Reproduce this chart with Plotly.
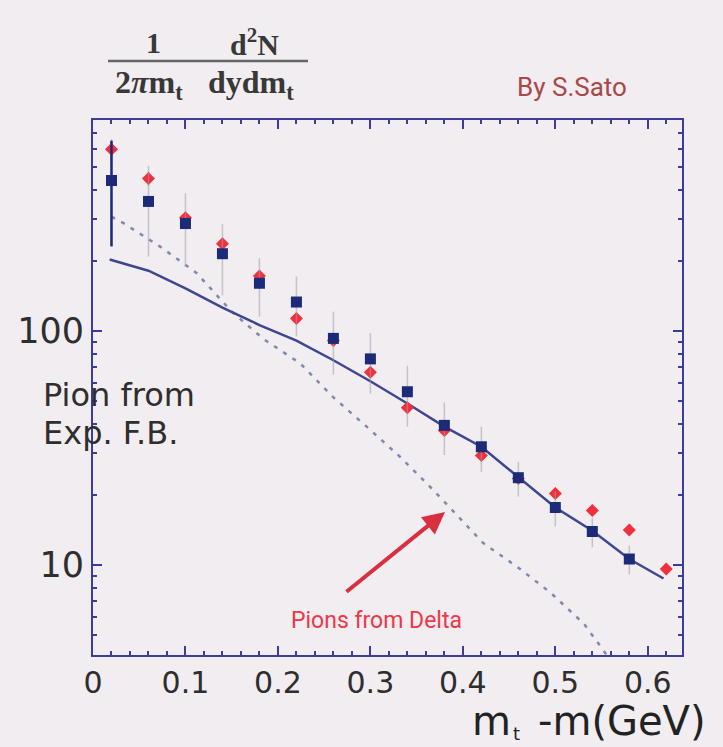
import plotly.graph_objects as go

# ---------------- data ----------------
x_blue = [0.02, 0.06, 0.10, 0.14, 0.18, 0.22, 0.26, 0.30, 0.34, 0.38, 0.42, 0.46, 0.50, 0.54, 0.58]
y_blue = [440, 358, 288, 214, 160, 133, 93, 76, 55, 39.5, 32, 23.6, 17.6, 13.9, 10.6]
err_blue = [210, 150, 100, 72, 45, 38, 28, 22, 16, 10, 7, 4, 3, 2, 1.5]

x_red = [0.02, 0.06, 0.10, 0.14, 0.18, 0.22, 0.26, 0.30, 0.34, 0.38, 0.42, 0.46, 0.50, 0.54, 0.58, 0.62]
y_red = [598, 449, 305, 236, 172, 113, 91, 66.7, 47, 37.6, 29.4, 23.4, 20.2, 17.1, 14.1, 9.6]
err_red = [60, 30, 18, 14, 9, 6, 5, 3, 2.5, 2, 1.5, 1.2, 1.0, 0.9, 0.7, 0.5]

x_fit = [0.018, 0.06, 0.10, 0.14, 0.18, 0.22, 0.26, 0.30, 0.34, 0.38, 0.42, 0.46, 0.50, 0.54, 0.58, 0.617]
y_fit = [202, 181, 152, 126, 106, 91, 75, 61, 49, 39, 32, 23.8, 17.6, 14.0, 10.6, 8.75]

x_delta = [0.02, 0.033, 0.073, 0.112, 0.150, 0.185, 0.224, 0.260, 0.296, 0.332, 0.368, 0.422, 0.459, 0.495, 0.531, 0.56]
y_delta = [308, 289, 229, 177, 121, 92, 72.8, 52, 39, 29, 20.9, 12.4, 9.8, 7.6, 5.6, 3.9]

x_ticks = [0, 0.1, 0.2, 0.3, 0.4, 0.5, 0.6]
x_ticklabels = ["0", "0.1", "0.2", "0.3", "0.4", "0.5", "0.6"]
y_ticks = [10, 100]
y_ticklabels = ["10", "100"]
y_minor = [5, 6, 7, 8, 9, 20, 30, 40, 50, 60, 70, 80, 90, 200, 300, 400, 500, 600, 700, 800]

# ---------------- geometry helpers (pixel -> paper) ----------------
W, H = 723, 747
L, R, T, B = 93, 682, 120, 655


def px(x):
    return (x - L) / (R - L)


def py(y):
    return (B - y) / (B - T)


BG = "#f1edf0"
AXC = "#3c3c9c"
NAVY = "#1c2a78"
RED = "#f0303a"

fig = go.Figure()

# dotted: pions from delta
fig.add_trace(go.Scatter(
    x=x_delta, y=y_delta, mode="lines",
    line=dict(color="#8088b0", width=2.5, dash="4px,7px"),
    hoverinfo="skip", showlegend=False))

# solid fit line
fig.add_trace(go.Scatter(
    x=x_fit, y=y_fit, mode="lines",
    line=dict(color="#3d4690", width=2.5),
    hoverinfo="skip", showlegend=False))

# red points
fig.add_trace(go.Scatter(
    x=x_red, y=y_red, mode="markers",
    marker=dict(symbol="diamond", size=10, color=RED),
    error_y=dict(type="data", array=err_red, color="rgba(240,60,70,0.7)", thickness=1.5, width=0),
    showlegend=False))

# blue points (faint error bars)
fig.add_trace(go.Scatter(
    x=x_blue, y=y_blue, mode="markers",
    marker=dict(symbol="square", size=11, color=NAVY),
    error_y=dict(type="data", array=err_blue, color="rgba(160,158,180,0.55)", thickness=1.5, width=0),
    showlegend=False))

# first blue point has a dark error bar
fig.add_trace(go.Scatter(
    x=x_blue[:1], y=y_blue[:1], mode="markers",
    marker=dict(symbol="square", size=11, color=NAVY),
    error_y=dict(type="data", array=err_blue[:1], color=NAVY, thickness=2.5, width=0),
    showlegend=False))

axis_common = dict(
    showline=True, linecolor=AXC, linewidth=2, mirror="allticks",
    ticks="inside", ticklen=9, tickwidth=1.5, tickcolor=AXC,
    showgrid=False, zeroline=False,
)

fig.update_xaxes(
    range=[0, 0.637], tickvals=x_ticks, ticktext=x_ticklabels,
    tickfont=dict(family="DejaVu Sans", size=30, color="#2e2e2e"),
    minor=dict(ticks="inside", ticklen=4, tickcolor=AXC, dtick=0.02),
    **axis_common)

fig.update_yaxes(
    type="log", range=[0.615, 2.902], tickvals=y_ticks, ticktext=y_ticklabels,
    tickfont=dict(family="DejaVu Sans", size=35, color="#2e2e2e"),
    minor=dict(ticks="inside", ticklen=4, tickcolor=AXC, tickvals=y_minor),
    **axis_common)


def label(x, y, text, size, color, family="DejaVu Sans", xanchor="center"):
    return dict(x=px(x), y=py(y), xref="paper", yref="paper", text=text,
                xanchor=xanchor, yanchor="middle", showarrow=False,
                font=dict(family=family, size=size, color=color))


serif = "Liberation Serif"
TC = "#383838"
ann = [
    label(153, 42, "<b>1</b>", 30, TC, serif),
    label(254, 42, "<b>d<sup>2</sup>N</b>", 30, TC, serif),
    label(149, 84, "<b>2<i>π</i>m<sub>t</sub></b>", 32, TC, serif),
    label(251, 84, "<b>dydm<sub>t</sub></b>", 32, TC, serif),
    label(572, 87, "By S.Sato", 26, "#a84848", "Roboto"),
    label(41, 395, "Pion from", 32, "#2e2e2e", xanchor="left"),
    label(41, 433, "Exp. F.B.", 32, "#2e2e2e", xanchor="left"),
    label(376, 620, "Pions from Delta", 23, "#ee3848", "Roboto"),
    # x-axis title: m_t -m(GeV)
    label(470, 721, "m", 40, "#222222", xanchor="left"),
    label(516, 733, "t", 18, "#222222"),
    label(708, 721, "-m(GeV)", 40, "#222222", xanchor="right"),
    dict(x=px(445), y=py(512), xref="paper", yref="paper", text="",
         showarrow=True, ax=-100, ay=81, arrowhead=2, arrowsize=1.1, arrowwidth=4,
         arrowcolor="#d83040"),
]

fig.update_layout(
    width=W, height=H,
    margin=dict(l=L, r=W - R, t=T, b=H - B),
    paper_bgcolor=BG, plot_bgcolor=BG,
    annotations=ann,
    shapes=[dict(type="line", xref="paper", yref="paper",
                 x0=px(108), x1=px(308), y0=py(61), y1=py(61),
                 line=dict(color="#666666", width=2.5))],
    showlegend=False,
)

fig.write_html("out.html")
